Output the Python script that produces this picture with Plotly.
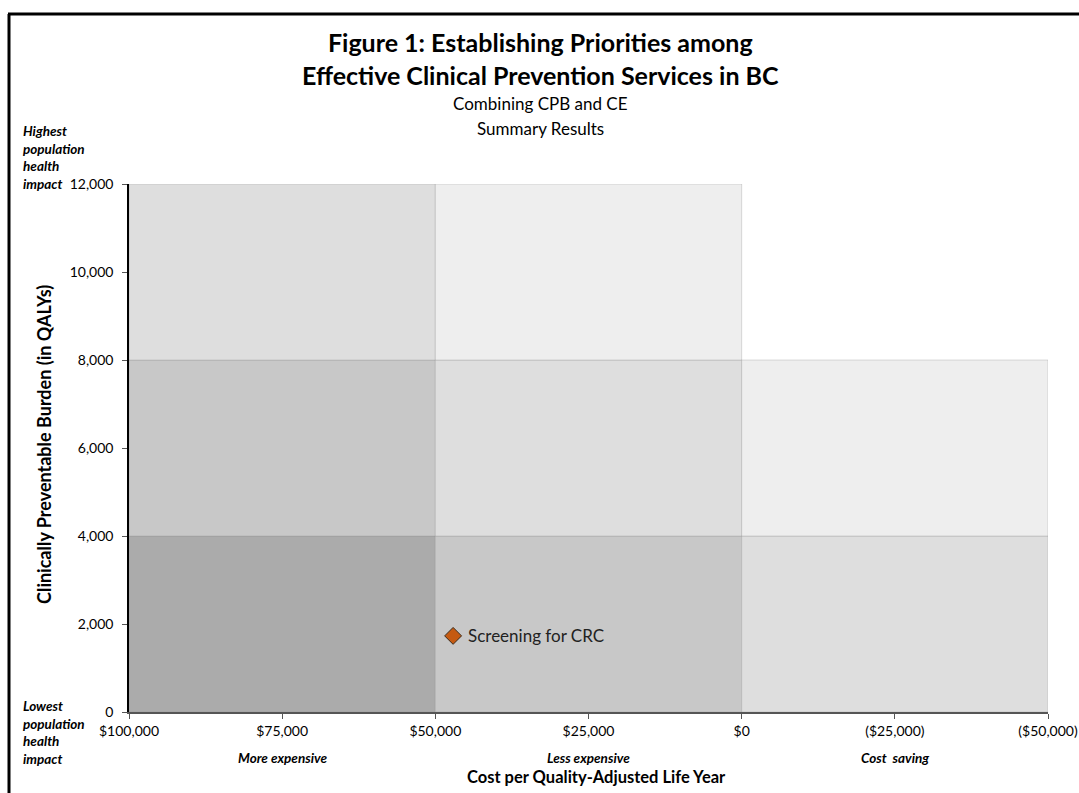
import plotly.graph_objects as go

# ---- data ----
x_edges = [100000, 50000, 0, -50000]          # cost per QALY column bounds
y_edges = [0, 4000, 8000, 12000]              # CPB row bounds
# cell shades [column][row]; None = no cell
cell_colors = [
    ["#ababab", "#c8c8c8", "#dedede"],
    ["#c8c8c8", "#dedede", "#eeeeee"],
    ["#dedede", "#eeeeee", None],
]
col_labels = ["More expensive", "Less expensive", "Cost  saving"]
x_ticks = [100000, 75000, 50000, 25000, 0, -25000, -50000]
x_tick_text = ["$100,000", "$75,000", "$50,000", "$25,000", "$0", "($25,000)", "($50,000)"]
y_ticks = [0, 2000, 4000, 6000, 8000, 10000, 12000]
y_tick_text = ["0", "2,000", "4,000", "6,000", "8,000", "10,000", "12,000"]
services = ["Screening for CRC"]
service_cost = [47100]
service_cpb = [1730]

FONT = "Lato"
W, H = 1079, 793
L, R, T, B = 129, 31, 184, 81
pw, ph = W - L - R, H - T - B

def px(xp):
    return (xp - L) / pw

def py(yp):
    return (H - B - yp) / ph

fig = go.Figure()

shapes = []
for ci in range(3):
    for ri in range(3):
        c = cell_colors[ci][ri]
        if c is None:
            continue
        shapes.append(dict(type="rect", xref="x", yref="y",
                           x0=x_edges[ci], x1=x_edges[ci + 1],
                           y0=y_edges[ri], y1=y_edges[ri + 1],
                           fillcolor=c, line=dict(color="rgba(140,140,140,0.3)", width=1),
                           layer="below"))

# outer frame (left and top border of the chart area)
shapes.append(dict(type="line", xref="paper", yref="paper",
                   x0=px(9), x1=px(9), y0=py(800), y1=py(14),
                   line=dict(color="black", width=3)))
shapes.append(dict(type="line", xref="paper", yref="paper",
                   x0=px(8), x1=px(1085), y0=py(14), y1=py(14),
                   line=dict(color="black", width=3)))

fig.add_trace(go.Scatter(
    x=service_cost, y=service_cpb, mode="markers",
    marker=dict(symbol="diamond", size=13, color="#c55a11",
                line=dict(color="#3a2a1a", width=1)),
    showlegend=False, cliponaxis=False,
))

annotations = []
for name, xv, yv in zip(services, service_cost, service_cpb):
    annotations.append(dict(xref="x", yref="y", x=xv, y=yv, text=name,
                            showarrow=False, xanchor="left", yanchor="middle",
                            xshift=13, font=dict(family=FONT, size=17, color="#222")))

# title
annotations.append(dict(xref="paper", yref="paper", x=px(540), y=py(59),
                        text="<b>Figure 1: Establishing Priorities among<br>"
                             "Effective Clinical Prevention Services in BC</b>",
                        showarrow=False, xanchor="center", yanchor="middle", align="center",
                        font=dict(family=FONT, size=25, color="black")))
for txt, yp in [("Combining CPB and CE", 104), ("Summary Results", 129)]:
    annotations.append(dict(xref="paper", yref="paper", x=px(540), y=py(yp),
                            text=txt, showarrow=False,
                            xanchor="center", yanchor="middle",
                            font=dict(family=FONT, size=17, color="black")))

# axis titles
annotations.append(dict(xref="paper", yref="paper", x=px(596), y=py(777),
                        text="<b>Cost per Quality-Adjusted Life Year</b>", showarrow=False,
                        xanchor="center", yanchor="middle",
                        font=dict(family=FONT, size=16.5, color="black")))
annotations.append(dict(xref="paper", yref="paper", x=px(44), y=py(445),
                        text="<b>Clinically Preventable Burden (in QALYs)</b>", showarrow=False,
                        textangle=-90, xanchor="center", yanchor="middle",
                        font=dict(family=FONT, size=18, color="black")))

# column descriptors
for ci, lab in enumerate(col_labels):
    xc = (x_edges[ci] + x_edges[ci + 1]) / 2
    annotations.append(dict(xref="x", yref="paper", x=xc, y=py(758),
                            text=f"<b><i>{lab}</i></b>", showarrow=False,
                            xanchor="center", yanchor="middle",
                            font=dict(family=FONT, size=13.5, color="black")))

# left side descriptors
annotations.append(dict(xref="paper", yref="paper", x=px(21), y=py(157),
                        text="<b><i>Highest<br>population<br>health<br>impact</i></b>",
                        showarrow=False, xanchor="left", yanchor="middle", align="left",
                        font=dict(family=FONT, size=13.5, color="black")))
annotations.append(dict(xref="paper", yref="paper", x=px(21), y=py(732),
                        text="<b><i>Lowest<br>population<br>health<br>impact</i></b>",
                        showarrow=False, xanchor="left", yanchor="middle", align="left",
                        font=dict(family=FONT, size=13.5, color="black")))

fig.update_layout(
    width=W, height=H,
    margin=dict(l=L, r=R, t=T, b=B, autoexpand=False),
    paper_bgcolor="white", plot_bgcolor="white",
    shapes=shapes, annotations=annotations,
    font=dict(family=FONT, color="black"),
    xaxis=dict(range=[100000, -50000], tickvals=x_ticks, ticktext=x_tick_text,
               showgrid=False, zeroline=False, showline=True, linecolor="#555",
               linewidth=1.5, ticks="outside", ticklen=5, tickcolor="#555",
               tickfont=dict(family=FONT, size=14, color="black")),
    yaxis=dict(range=[0, 12000], tickvals=y_ticks, ticktext=y_tick_text,
               showgrid=False, zeroline=False, showline=True, linecolor="black",
               linewidth=1.5, ticks="outside", ticklen=5, tickcolor="#555",
               ticklabelstandoff=6,
               tickfont=dict(family=FONT, size=14, color="black")),
)

fig.write_html("out.html")
